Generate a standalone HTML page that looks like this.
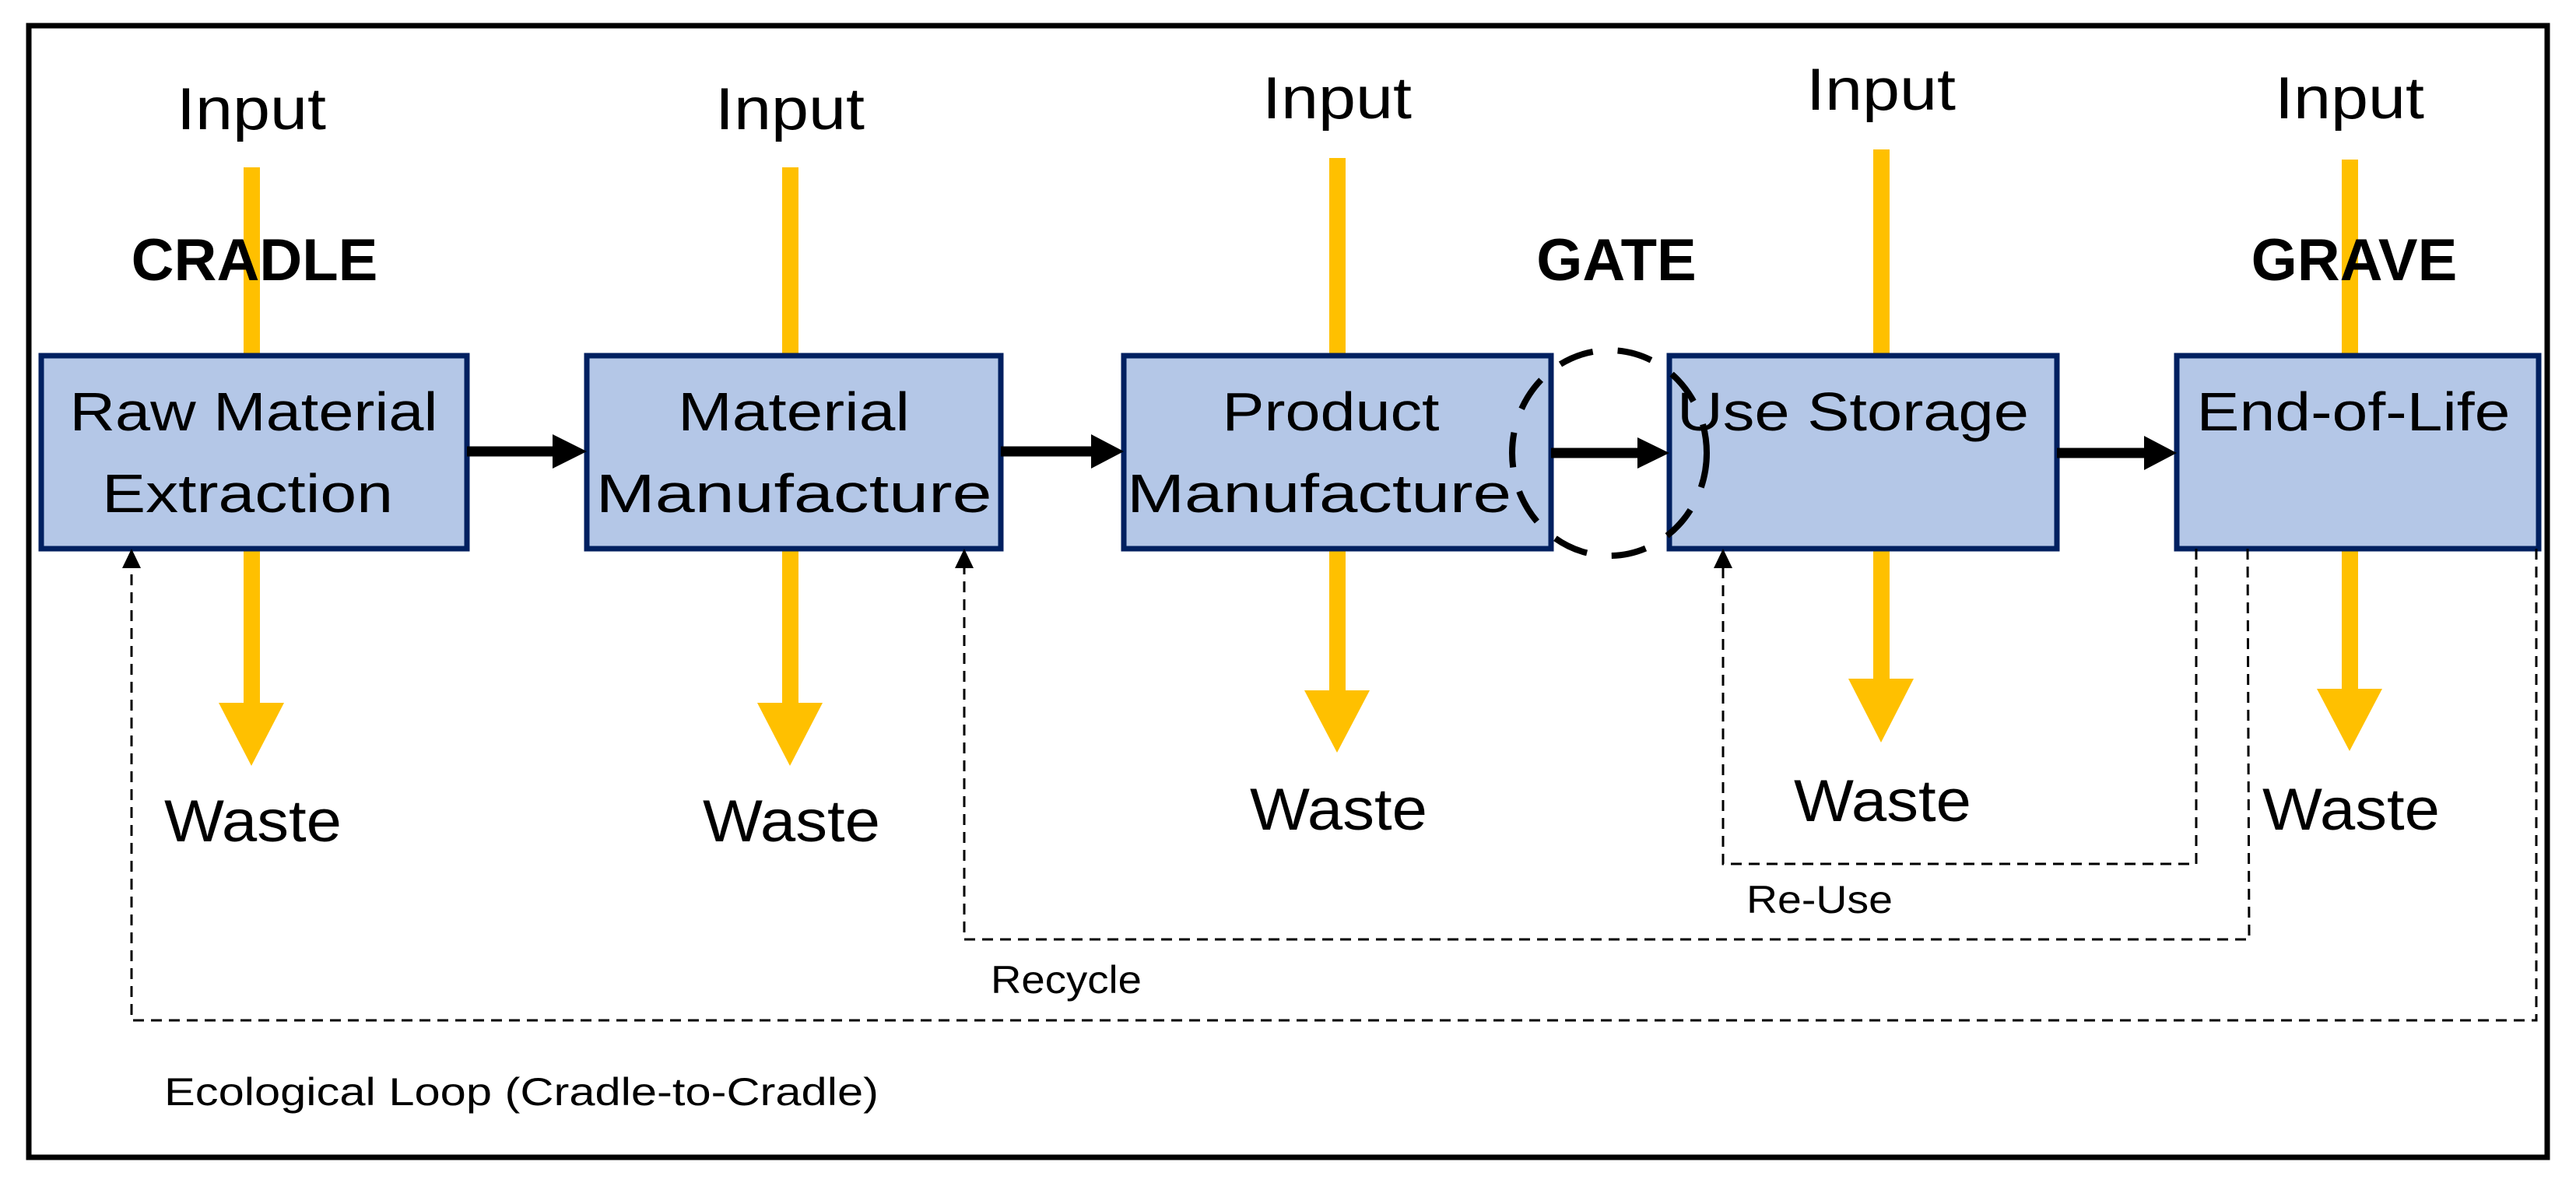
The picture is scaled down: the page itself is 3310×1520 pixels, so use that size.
<!DOCTYPE html>
<html><head><meta charset="utf-8"><style>
html,body{margin:0;padding:0;background:#fff}
svg{display:block}
text{font-family:"Liberation Sans","DejaVu Sans",sans-serif;fill:#000}
</style></head><body>
<svg width="3310" height="1520" viewBox="0 0 3310 1520" xmlns="http://www.w3.org/2000/svg">
<rect x="37" y="33" width="3236" height="1454" fill="#fff" stroke="#000" stroke-width="7"/>
<!-- yellow arrows -->
<g fill="#ffc000">
<rect x="313" y="215" width="21" height="690"/><polygon points="281,903 365,903 323,984"/>
<rect x="1005" y="215" width="21" height="690"/><polygon points="973,903 1057,903 1015,984"/>
<rect x="1708" y="203" width="21" height="686"/><polygon points="1676,887 1760,887 1718,967"/>
<rect x="2407" y="192" width="21" height="682"/><polygon points="2375,872 2459,872 2417,954"/>
<rect x="3009" y="205" width="21" height="682"/><polygon points="2977,885 3061,885 3019,965"/>
</g>
<!-- labels -->
<g font-size="76" text-anchor="middle" lengthAdjust="spacingAndGlyphs">
<text x="323" y="166" textLength="192" lengthAdjust="spacingAndGlyphs">Input</text>
<text x="1015" y="166" textLength="192" lengthAdjust="spacingAndGlyphs">Input</text>
<text x="1718" y="152" textLength="192" lengthAdjust="spacingAndGlyphs">Input</text>
<text x="2417" y="141" textLength="192" lengthAdjust="spacingAndGlyphs">Input</text>
<text x="3019" y="152" textLength="192" lengthAdjust="spacingAndGlyphs">Input</text>
<text x="325" y="1081" textLength="228" lengthAdjust="spacingAndGlyphs">Waste</text>
<text x="1017" y="1081" textLength="228" lengthAdjust="spacingAndGlyphs">Waste</text>
<text x="1720" y="1066" textLength="228" lengthAdjust="spacingAndGlyphs">Waste</text>
<text x="2419" y="1055" textLength="228" lengthAdjust="spacingAndGlyphs">Waste</text>
<text x="3021" y="1066" textLength="228" lengthAdjust="spacingAndGlyphs">Waste</text>
</g>
<g font-size="76" font-weight="bold" text-anchor="middle">
<text x="327" y="360">CRADLE</text>
<text x="2077" y="360">GATE</text>
<text x="3025" y="360">GRAVE</text>
</g>
<!-- boxes -->
<g fill="#b4c7e7" stroke="#002060" stroke-width="7">
<rect x="53" y="457" width="547" height="248"/>
<rect x="754" y="457" width="532" height="248"/>
<rect x="1444" y="457" width="549" height="248"/>
<rect x="2145" y="457" width="498" height="248"/>
<rect x="2797" y="457" width="465" height="248"/>
</g>
<g font-size="70" text-anchor="middle">
<text x="326" y="553" textLength="473" lengthAdjust="spacingAndGlyphs">Raw Material</text>
<text x="318" y="658" textLength="374" lengthAdjust="spacingAndGlyphs">Extraction</text>
<text x="1020" y="553" textLength="298" lengthAdjust="spacingAndGlyphs">Material</text>
<text x="1020" y="658" textLength="509" lengthAdjust="spacingAndGlyphs">Manufacture</text>
<text x="1710" y="553" textLength="279" lengthAdjust="spacingAndGlyphs">Product</text>
<text x="1695" y="658" textLength="494" lengthAdjust="spacingAndGlyphs">Manufacture</text>
<text x="2381" y="553" textLength="452" lengthAdjust="spacingAndGlyphs">Use Storage</text>
<text x="3024" y="553" textLength="403" lengthAdjust="spacingAndGlyphs">End-of-Life</text>
</g>
<!-- black arrows -->
<g stroke="#000" stroke-width="13">
<line x1="600" y1="580" x2="715" y2="580"/>
<line x1="1286" y1="580" x2="1410" y2="580"/>
<line x1="1993" y1="582" x2="2108" y2="582"/>
<line x1="2643" y1="582" x2="2762" y2="582"/>
</g>
<g fill="#000">
<polygon points="710,558 754,580 710,602"/>
<polygon points="1402,558 1444,580 1402,602"/>
<polygon points="2104,562 2145,582 2104,602"/>
<polygon points="2755,560 2797,582 2755,604"/>
</g>
<ellipse cx="2068" cy="582" rx="125" ry="132" fill="none" stroke="#000" stroke-width="8" stroke-dasharray="45 32"/>
<!-- dashed loops -->
<g fill="none" stroke="#000" stroke-width="3" stroke-dasharray="14 9">
<polyline points="2822,705 2822,1110 2214,1110 2214,725"/>
<polyline points="2888,705 2890,1207 1239,1207 1239,725"/>
<polyline points="3259,705 3259,1311 169,1311 169,725"/>
</g>
<g fill="#000">
<polygon points="2214,705 2202,730 2226,730"/>
<polygon points="1239,705 1227,730 1251,730"/>
<polygon points="169,705 157,730 181,730"/>
</g>
<g font-size="50">
<text x="2244" y="1173" textLength="188" lengthAdjust="spacingAndGlyphs">Re-Use</text>
<text x="1273" y="1276" textLength="194" lengthAdjust="spacingAndGlyphs">Recycle</text>
<text x="211" y="1420" textLength="918" lengthAdjust="spacingAndGlyphs">Ecological Loop (Cradle-to-Cradle)</text>
</g>
</svg>
</body></html>
